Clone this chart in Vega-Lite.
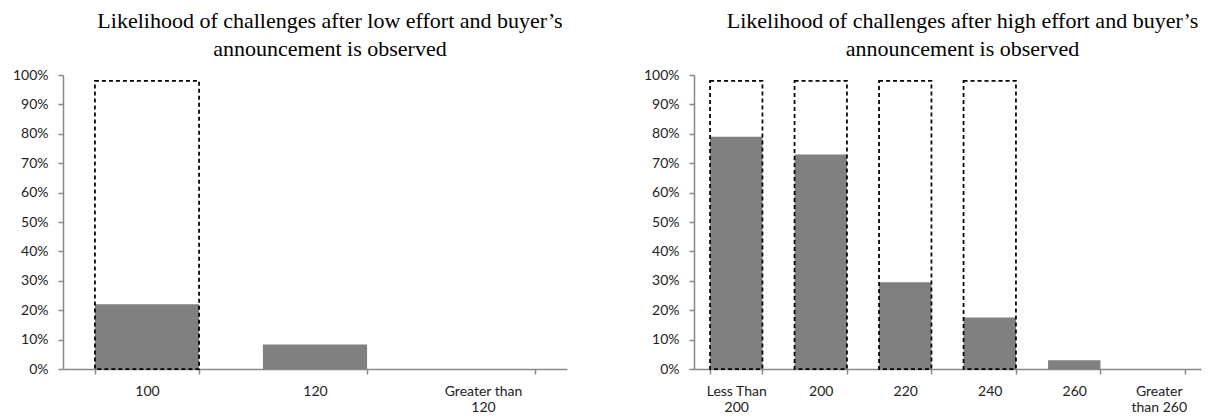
{
  "$schema": "https://vega.github.io/schema/vega-lite/v6.json",
  "padding": {"left": 12, "top": 10, "right": 10, "bottom": 5},
  "spacing": 76,
  "config": {
    "view": {"stroke": null},
    "font": "Lato",
    "title": {"font": "Liberation Serif", "fontSize": 22, "fontWeight": "normal", "color": "#000000", "lineHeight": 28, "anchor": "middle", "dx": 15, "offset": 7},
    "axis": {
      "labelFont": "Lato", "labelFontSize": 14, "labelColor": "#222222", "labelOverlap": false,
      "domainColor": "#888888", "domainWidth": 1.5, "tickColor": "#888888", "tickWidth": 1.5, "tickSize": 5,
      "grid": false, "title": null
    }
  },
  "hconcat": [
    {
      "title": {"text": ["Likelihood of challenges after low effort and buyer’s", "announcement is observed"]},
      "width": 504,
      "height": 294,
      "data": {"values": [
        {"cat": "100", "value": 0.22, "box": 0.98},
        {"cat": "120", "value": 0.083, "box": null},
        {"cat": "Greater than 120", "value": 0.0, "box": null}
      ]},
      "encoding": {
        "x": {"field": "cat", "type": "nominal", "sort": null,
          "scale": {"paddingInner": 0.38, "paddingOuter": 0.19},
          "axis": {"labelAngle": 0, "tickBand": "extent", "labelPadding": 10, "labelLineHeight": 16,
            "labelExpr": "datum.label == 'Greater than 120' ? ['Greater than', '120'] : datum.label"}}
      },
      "layer": [
        {"mark": {"type": "bar", "color": "#808080"},
         "encoding": {"y": {"field": "value", "type": "quantitative",
           "scale": {"domain": [0, 1]},
           "axis": {"values": [0, 0.1, 0.2, 0.3, 0.4, 0.5, 0.6, 0.7, 0.8, 0.9, 1], "format": ".0%", "labelPadding": 10}}}},
        {"transform": [{"filter": "datum.box != null"}],
         "mark": {"type": "bar", "fill": null, "fillOpacity": 0, "stroke": "#000000", "strokeWidth": 1.75, "strokeDash": [4, 3]},
         "encoding": {"y": {"field": "box", "type": "quantitative",
           "scale": {"domain": [0, 1]},
           "axis": {"values": [0, 0.1, 0.2, 0.3, 0.4, 0.5, 0.6, 0.7, 0.8, 0.9, 1], "format": ".0%", "labelPadding": 10}}}}
      ]
    },
    {
      "title": {"text": ["Likelihood of challenges after high effort and buyer’s", "announcement is observed"]},
      "width": 507,
      "height": 294,
      "data": {"values": [
        {"cat": "Less Than 200", "value": 0.79, "box": 0.98},
        {"cat": "200", "value": 0.73, "box": 0.98},
        {"cat": "220", "value": 0.295, "box": 0.98},
        {"cat": "240", "value": 0.175, "box": 0.98},
        {"cat": "260", "value": 0.03, "box": null},
        {"cat": "Greater than 260", "value": 0.0, "box": null}
      ]},
      "encoding": {
        "x": {"field": "cat", "type": "nominal", "sort": null,
          "scale": {"paddingInner": 0.38, "paddingOuter": 0.19},
          "axis": {"labelAngle": 0, "tickBand": "extent", "labelPadding": 10, "labelLineHeight": 16,
            "labelExpr": "datum.label == 'Less Than 200' ? ['Less Than', '200'] : datum.label == 'Greater than 260' ? ['Greater', 'than 260'] : datum.label"}}
      },
      "layer": [
        {"mark": {"type": "bar", "color": "#808080"},
         "encoding": {"y": {"field": "value", "type": "quantitative",
           "scale": {"domain": [0, 1]},
           "axis": {"values": [0, 0.1, 0.2, 0.3, 0.4, 0.5, 0.6, 0.7, 0.8, 0.9, 1], "format": ".0%", "labelPadding": 10}}}},
        {"transform": [{"filter": "datum.box != null"}],
         "mark": {"type": "bar", "fill": null, "fillOpacity": 0, "stroke": "#000000", "strokeWidth": 1.75, "strokeDash": [4, 3]},
         "encoding": {"y": {"field": "box", "type": "quantitative",
           "scale": {"domain": [0, 1]},
           "axis": {"values": [0, 0.1, 0.2, 0.3, 0.4, 0.5, 0.6, 0.7, 0.8, 0.9, 1], "format": ".0%", "labelPadding": 10}}}}
      ]
    }
  ]
}
